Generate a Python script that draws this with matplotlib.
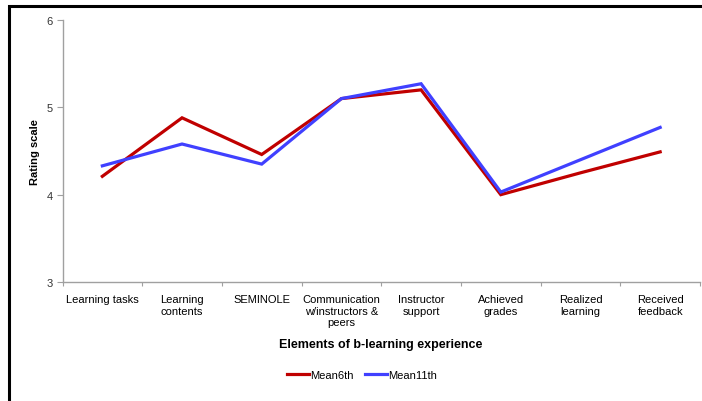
import numpy as np
import matplotlib.pyplot as plt
from matplotlib.patches import Rectangle

plt.rcParams['font.family'] = ['Liberation Sans', 'DejaVu Sans']

# Datos
categorias = ["Learning tasks", "Learning\ncontents", "SEMINOLE",
              "Communication\nw/instructors &\npeers", "Instructor\nsupport",
              "Achieved\ngrades", "Realized\nlearning", "Received\nfeedback"]
mean6th = [4.21, 4.88, 4.46, 5.10, 5.20, 4.00, 4.25, 4.49]
mean11th = [4.33, 4.58, 4.35, 5.10, 5.27, 4.03, 4.40, 4.77]
yticks = [3, 4, 5, 6]

fig = plt.figure(figsize=(7.02, 4.02), dpi=100)
ax = fig.add_axes([62.5/702, 1 - 283/402, (700 - 62.5)/702, (283 - 21)/402])

x = np.arange(len(categorias))
ax.plot(x, mean6th, color="#C00000", lw=2.3, label="Mean6th", solid_joinstyle='miter')
ax.plot(x, mean11th, color="#4040FF", lw=2.3, label="Mean11th", solid_joinstyle='miter')

ax.set_xlim(-0.5, len(categorias) - 0.5)
ax.set_ylim(3, 6)
ax.set_yticks(yticks)
ax.set_yticklabels([str(v) for v in yticks], fontsize=8, color="#333333")

# ticks en los bordes de cada categoria, etiquetas al centro
ax.set_xticks(np.arange(-0.5, len(categorias)), minor=False)
ax.set_xticklabels([])
ax.set_xticks(x, minor=True)
ax.set_xticklabels(categorias, minor=True, fontsize=8, linespacing=1.15)
ax.tick_params(axis='x', which='minor', length=0, pad=9)
ax.tick_params(axis='x', which='major', length=3, color="#A0A0A0", direction='out')
ax.tick_params(axis='y', length=4, color="#A0A0A0", direction='out', pad=3)

for s in ['top', 'right']:
    ax.spines[s].set_visible(False)
for s in ['left', 'bottom']:
    ax.spines[s].set_color("#A0A0A0")
    ax.spines[s].set_linewidth(1)

ax.set_ylabel("Rating scale", fontsize=8, fontweight='bold', labelpad=5)
fig.text(381/702, 1 - 345/402, "Elements of b-learning experience",
         fontsize=9, fontweight='bold', ha='center', va='center')

fig.legend(loc='center', bbox_to_anchor=(362/702, 1 - 376/402), ncol=2,
           frameon=False, fontsize=8, handlelength=2.0, handletextpad=0.1,
           columnspacing=1.0)

# marco exterior
fig.patches.append(Rectangle((9/702, -0.1), 1.2, 1 - 7/402 + 0.1,
                             transform=fig.transFigure, fill=False,
                             edgecolor='black', lw=2.2))

fig.savefig("out.png", dpi=100)
